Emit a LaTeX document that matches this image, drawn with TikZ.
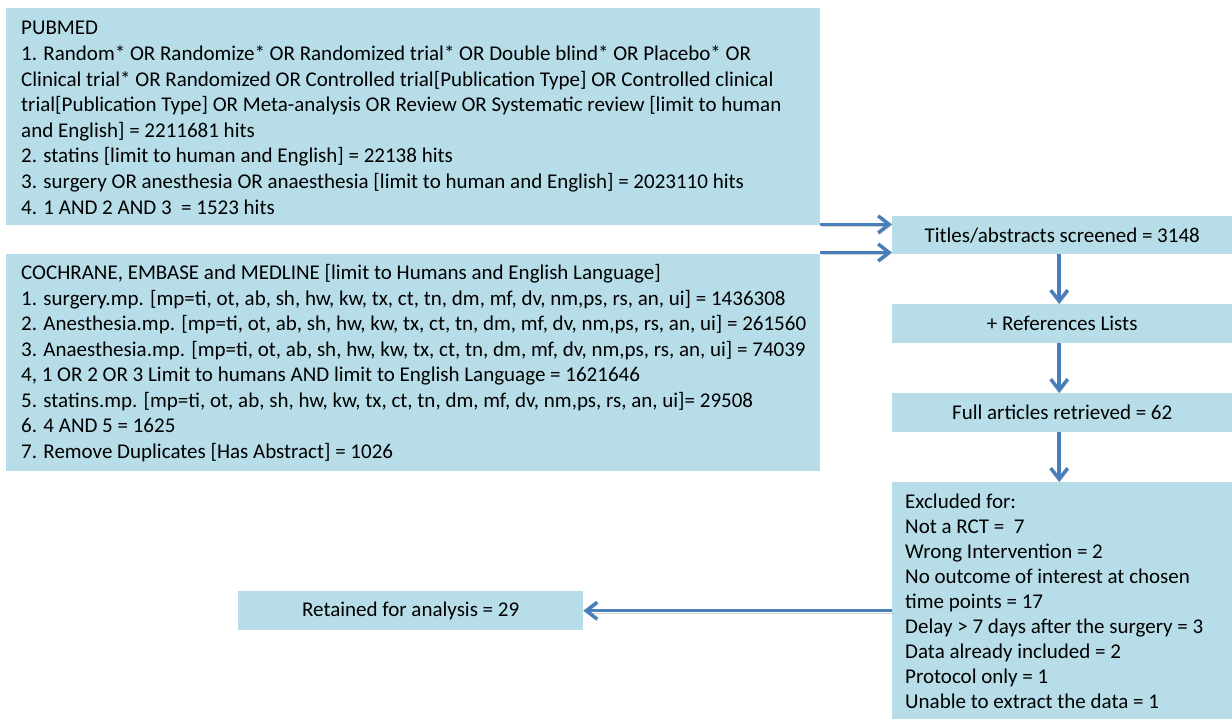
\documentclass[tikz,border=0pt]{standalone}
\usepackage{fontspec}
\setmainfont{Carlito}
\usetikzlibrary{arrows.meta}
\definecolor{boxfill}{HTML}{B7DDE8}
\definecolor{arrblue}{HTML}{4A7EBB}
\tikzset{
  box/.style={rectangle, fill=boxfill, draw=none, inner sep=0pt, anchor=north west},
  txt/.style={inner sep=0pt, anchor=base west, font=\fontsize{21}{25}\selectfont},
  ctxt/.style={inner sep=0pt, font=\fontsize{21}{25}\selectfont},
  arr/.style={draw=arrblue, line width=3.5pt,
    -{Straight Barb[length=11pt,width=17pt,line width=3.5pt]},
    preaction={draw=black, opacity=0.18, transform canvas={shift={(1.2pt,-2pt)}}}}
}
\begin{document}
\begin{tikzpicture}[x=1pt,y=1pt]
\useasboundingbox (0,0) rectangle (1232,-719);
% boxes
\node[box, minimum width=814pt, minimum height=217pt] (pub) at (6,-8) {};
\node[box, minimum width=814pt, minimum height=217pt] (cem) at (6,-254) {};
\node[box, minimum width=340pt, minimum height=38pt] (titles) at (892,-216) {};
\node[box, minimum width=340pt, minimum height=39pt] (refs) at (892,-304) {};
\node[box, minimum width=340pt, minimum height=39pt] (full) at (892,-393) {};
\node[box, minimum width=340pt, minimum height=237pt] (excl) at (892,-482) {};
\node[box, minimum width=345pt, minimum height=39pt] (ret) at (238,-591) {};
% texts
\node[txt] (pubtext) at (21,-35) {\parbox[t]{795pt}{\raggedright\baselineskip=25.6pt
PUBMED\\
1. Random* OR Randomize* OR Randomized trial* OR Double blind* OR Placebo* OR\\
Clinical trial* OR Randomized OR Controlled trial[Publication Type] OR Controlled clinical\\
trial[Publication Type] OR Meta-analysis OR Review OR Systematic review [limit to human\\
and English] = 2211681 hits\\
2. statins [limit to human and English] = 22138 hits\\
3. surgery OR anesthesia OR anaesthesia [limit to human and English] = 2023110 hits\\
4. 1 AND 2 AND 3\ \ = 1523 hits\par}};
\node[txt] (cemtext) at (21,-280) {\parbox[t]{795pt}{\raggedright\baselineskip=25.5pt
COCHRANE, EMBASE and MEDLINE [limit to Humans and English Language]\\
1. surgery.mp. [mp=ti, ot, ab, sh, hw, kw, tx, ct, tn, dm, mf, dv, nm,ps, rs, an, ui] = 1436308\\
2. Anesthesia.mp. [mp=ti, ot, ab, sh, hw, kw, tx, ct, tn, dm, mf, dv, nm,ps, rs, an, ui] = 261560\\
3. Anaesthesia.mp. [mp=ti, ot, ab, sh, hw, kw, tx, ct, tn, dm, mf, dv, nm,ps, rs, an, ui] = 74039\\
4, 1 OR 2 OR 3 Limit to humans AND limit to English Language = 1621646\\
5. statins.mp. [mp=ti, ot, ab, sh, hw, kw, tx, ct, tn, dm, mf, dv, nm,ps, rs, an, ui]= 29508\\
6. 4 AND 5 = 1625\\
7. Remove Duplicates [Has Abstract] = 1026\par}};
\node[ctxt] (titlestext) at (titles.center) {Titles/abstracts screened = 3148};
\node[ctxt] (refstext) at (refs.center) {+ References Lists};
\node[ctxt] (fulltext) at (full.center) {Full articles retrieved = 62};
\node[ctxt] (rettext) at (ret.center) {Retained for analysis = 29};
\node[txt] (excltext) at (905,-508) {\parbox[t]{325pt}{\raggedright\baselineskip=25pt
Excluded for:\\
Not a RCT =\ \ 7\\
Wrong Intervention = 2\\
No outcome of interest at chosen\\
time points = 17\\
Delay > 7 days after the surgery = 3\\
Data already included = 2\\
Protocol only = 1\\
Unable to extract the data = 1\par}};
% arrows
\draw[arr] ([yshift=1pt]pub.south east) -- ([yshift=1pt]pub.south east -| titles.west);
\draw[arr] ([yshift=1.5pt]cem.north east) -- ([yshift=1.5pt]cem.north east -| titles.west);
\draw[arr] ([xshift=-3pt]titles.south) -- ([xshift=-3pt]refs.north);
\draw[arr] ([xshift=-3pt]refs.south) -- ([xshift=-3pt]full.north);
\draw[arr] ([xshift=-3pt]full.south) -- ([xshift=-3pt]excl.north);
\draw[arr] (excl.west |- ret.east) -- (ret.east);
\end{tikzpicture}
\end{document}
